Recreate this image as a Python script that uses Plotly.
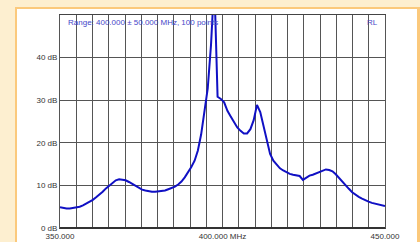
import numpy as np
import plotly.graph_objects as go

# Data: 100 points, 350..450 MHz
freq_start = 350.0
freq_stop = 450.0
n_points = 100
rl_db = [
    4.85, 4.7, 4.6, 4.6, 4.7, 4.85, 5.0, 5.3, 5.7, 6.1,
    6.6, 7.2, 7.8, 8.5, 9.3, 10.0, 10.7, 11.2, 11.45, 11.4,
    11.2, 10.8, 10.3, 9.85, 9.4, 9.0, 8.8, 8.6, 8.5, 8.5,
    8.55, 8.6, 8.8, 9.1, 9.4, 9.7, 10.2, 10.9, 11.9, 13.0,
    14.3, 15.8, 18.2, 22.0, 28.0, 32.8, 43.0, 58.0, 30.8, 30.3,
    29.5, 27.5, 26.2, 24.8, 23.6, 22.8, 22.2, 22.2, 23.2, 25.3,
    28.9, 27.2, 24.0, 20.5, 17.4, 15.8, 14.8, 14.0, 13.5, 13.0,
    12.7, 12.5, 12.35, 12.2, 11.3, 11.9, 12.3, 12.5, 12.8, 13.1,
    13.4, 13.75, 13.6, 13.3, 12.6, 11.7, 10.8, 10.0, 9.2, 8.4,
    7.8, 7.3, 6.9, 6.5, 6.2, 5.9, 5.7, 5.6, 5.4, 5.15,
]
freqs = np.linspace(freq_start, freq_stop, n_points)

x_label_vals = [350.0, 400.0, 450.0]
x_label_text = ["350.000", "400.000 MHz", "450.000"]
y_tick_vals = [0, 10, 20, 30, 40]
y_tick_text = ["0 dB", "10 dB", "20 dB", "30 dB", "40 dB"]
title_text = "Range: 400.000 \u00b1 50.000 MHz, 100 points"
corner_text = "RL"

# geometry (pixels)
W, H = 420, 242
L, R, T, B = 60, 385, 15, 228

def px(x):
    return (x - L) / (R - L)

def py(y):
    return (B - y) / (B - T)

x_grid = np.arange(freq_start, freq_stop + 0.01, 5.0)
tick_text_all = []
for v in x_grid:
    s = ""
    for lv, lt in zip(x_label_vals, x_label_text):
        if abs(v - lv) < 1e-6:
            s = lt
    tick_text_all.append(s)

fig = go.Figure()
fig.add_trace(go.Scatter(
    x=freqs, y=rl_db, mode="lines",
    line=dict(color="#1010c4", width=2),
    hoverinfo="skip", showlegend=False,
))

font = "Liberation Sans, Arial, sans-serif"
fig.update_layout(
    width=W, height=H,
    margin=dict(l=L, r=W - R, t=T, b=H - B, autoexpand=False),
    paper_bgcolor="#fdefd0",
    plot_bgcolor="#f0f0f0",
    showlegend=False,
    font=dict(family=font, size=8, color="#333333"),
    xaxis=dict(
        range=[freq_start, freq_stop],
        tickmode="array", tickvals=list(x_grid), ticktext=tick_text_all,
        showgrid=True, gridcolor="#555555", gridwidth=1,
        ticks="", ticklen=0,
        showline=True, linecolor="#444444", linewidth=1, mirror=True,
        zeroline=False, tickfont=dict(size=8, color="#333333"),
        automargin=False, fixedrange=True,
    ),
    yaxis=dict(
        range=[0, 50],
        tickmode="array", tickvals=y_tick_vals, ticktext=y_tick_text,
        showgrid=True, gridcolor="#555555", gridwidth=1,
        ticks="", ticklen=0,
        showline=True, linecolor="#555555", linewidth=1, mirror=True,
        zeroline=False, tickfont=dict(size=8, color="#333333"),
        automargin=False, fixedrange=True,
    ),
    shapes=[
        dict(type="rect", xref="paper", yref="paper", layer="below",
             x0=px(15), x1=px(420), y0=py(7), y1=py(250),
             fillcolor="#fbc97c", line=dict(width=0)),
        dict(type="rect", xref="paper", yref="paper", layer="below",
             x0=px(17), x1=px(417), y0=py(9), y1=py(250),
             fillcolor="#ffffff", line=dict(width=0)),
        dict(type="line", xref="paper", yref="paper", layer="above",
             x0=0, x1=1, y0=0, y1=0, line=dict(color="#333333", width=2)),
    ],
    annotations=[
        dict(text=title_text, xref="paper", yref="paper",
             x=px(66), y=py(23), xanchor="left", yanchor="middle",
             showarrow=False, font=dict(size=8, color="#4646c8", family=font)),
        dict(text=corner_text, xref="paper", yref="paper",
             x=px(380), y=py(23), xanchor="right", yanchor="middle",
             showarrow=False, font=dict(size=8, color="#4646c8", family=font)),
    ],
)

fig.write_html("out.html", config={"displayModeBar": False},
               post_script="document.body.style.margin='0px';")
